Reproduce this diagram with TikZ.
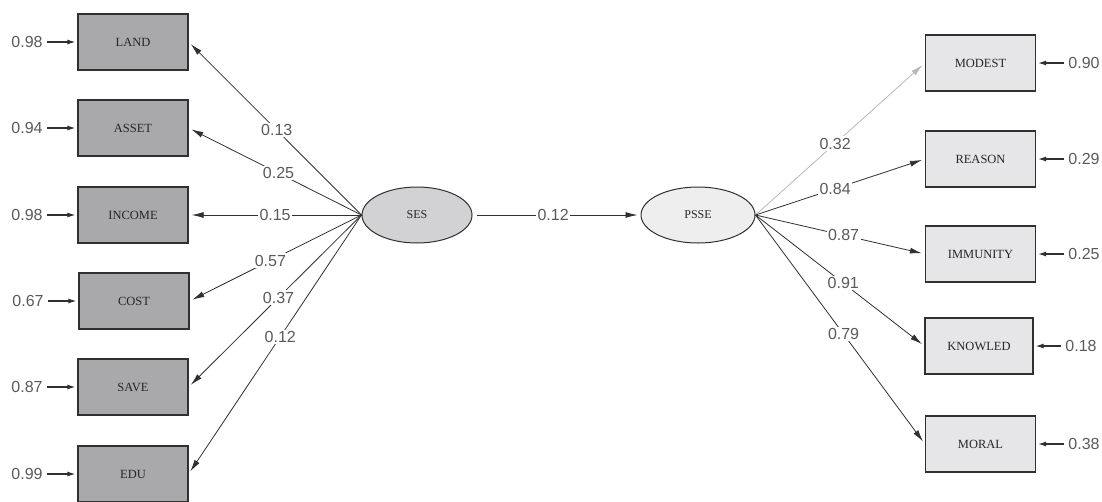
\documentclass[tikz,border=0pt]{standalone}
\usepackage{fontspec}
\setmainfont{Liberation Serif}
\newfontfamily\numfont{Liberation Sans}
\usetikzlibrary{arrows.meta,shapes.geometric}
\definecolor{leftfill}{HTML}{A9A9AC}
\definecolor{rightfill}{HTML}{E6E6E8}
\definecolor{sesfill}{HTML}{D2D2D4}
\definecolor{pssefill}{HTML}{EEEEEE}
\definecolor{linec}{HTML}{303030}
\definecolor{numc}{HTML}{5A5A5A}
\tikzset{
  obs/.style={draw=linec, line width=1.3pt, minimum height=56pt, minimum width=110pt, inner sep=0pt,
     font=\fontsize{12.5}{14}\selectfont, text=black!85},
  lbox/.style={obs, fill=leftfill},
  rbox/.style={obs, fill=rightfill},
  lat/.style={ellipse, draw=linec, line width=1pt, inner sep=0pt, font=\fontsize{12}{14}\selectfont, text=black!85},
  num/.style={font=\numfont\fontsize{16}{18}\selectfont, text=numc, inner sep=2pt},
  onl/.style={num, fill=white, inner sep=1.5pt},
  path/.style={draw=linec, line width=0.8pt, -{Latex[length=12pt,width=6pt]}, shorten >=3pt},
  err/.style={draw=linec, line width=1.1pt, -{Latex[length=8pt,width=5pt]}, shorten >=2pt, shorten <=2pt},
}
\begin{document}
\begin{tikzpicture}[x=1pt,y=-1pt]
\useasboundingbox (0,0) rectangle (1102,501);
% left boxes
\node[lbox] (LAND) at (133,42) {LAND};
\node[lbox] (ASSET) at (133,128) {ASSET};
\node[lbox] (INCOME) at (133,215) {INCOME};
\node[lbox] (COST) at (134,301) {COST};
\node[lbox] (SAVE) at (133,387) {SAVE};
\node[lbox] (EDU) at (133,474) {EDU};
% right boxes
\node[rbox] (MODEST) at (980.5,63) {MODEST};
\node[rbox] (REASON) at (980.5,159) {REASON};
\node[rbox] (IMMUNITY) at (980.5,254) {IMMUNITY};
\node[rbox, minimum width=108pt] (KNOWLED) at (979,346) {KNOWLED};
\node[rbox] (MORAL) at (980.5,444) {MORAL};
% latents
\node[lat, fill=sesfill, minimum width=110pt, minimum height=56pt] (SES) at (417,215) {SES};
\node[lat, fill=pssefill, minimum width=114pt, minimum height=56pt] (PSSE) at (698,215) {PSSE};
% left error terms
\node[num] (eLAND) at (27,42) {0.98};
\node[num] (eASSET) at (27,128) {0.94};
\node[num] (eINCOME) at (27,215) {0.98};
\node[num] (eCOST) at (28,301) {0.67};
\node[num] (eSAVE) at (27,387) {0.87};
\node[num] (eEDU) at (27,474) {0.99};
\foreach \n in {LAND,ASSET,INCOME,COST,SAVE,EDU}{\draw[err] (e\n) -- (\n);}
% right error terms
\node[num] (eMODEST) at (1084,63) {0.90};
\node[num] (eREASON) at (1084,159) {0.29};
\node[num] (eIMMUNITY) at (1084,254) {0.25};
\node[num] (eKNOWLED) at (1081,346) {0.18};
\node[num] (eMORAL) at (1084,444) {0.38};
\foreach \n in {MODEST,REASON,IMMUNITY,KNOWLED,MORAL}{\draw[err] (e\n) -- (\n);}
% SES loadings
\draw[path] (SES.west) -- node[onl,pos=0.49] {0.13} (LAND.east);
\draw[path] (SES.west) -- node[onl,pos=0.48] {0.25} (ASSET.east);
\draw[path] (SES.west) -- node[onl,pos=0.5] {0.15} (INCOME.east);
\draw[path] (SES.west) -- node[onl,pos=0.53] {0.57} (COST.east);
\draw[path] (SES.west) -- node[onl,pos=0.48] {0.37} (SAVE.east);
\draw[path] (SES.west) -- node[onl,pos=0.47] {0.12} (EDU.east);
% structural
\draw[path, shorten <=4pt] (SES.east) -- node[onl,pos=0.48] {0.12} (PSSE.west);
% PSSE loadings
\draw[path, draw=black!28] (PSSE.east) -- node[onl,pos=0.47] {0.32} (MODEST.west);
\draw[path] (PSSE.east) -- node[onl,pos=0.47] {0.84} (REASON.west);
\draw[path] (PSSE.east) -- node[onl,pos=0.52] {0.87} (IMMUNITY.west);
\draw[path] (PSSE.east) -- node[onl,pos=0.52] {0.91} (KNOWLED.west);
\draw[path] (PSSE.east) -- node[onl,pos=0.52] {0.79} (MORAL.west);
\end{tikzpicture}
\end{document}
